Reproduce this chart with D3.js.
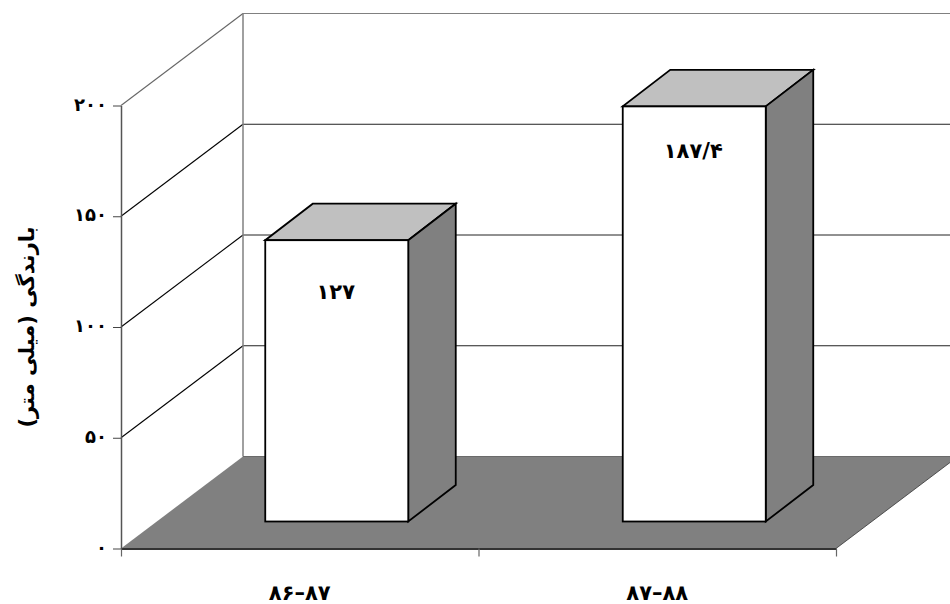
<!DOCTYPE html>
<html>
<head>
<meta charset="utf-8">
<script src="https://cdn.jsdelivr.net/npm/d3@7"></script>
<style>
  html, body { margin: 0; padding: 0; background: #fff; }
  svg { display: block; }
  text { font-family: "DejaVu Sans", sans-serif; font-weight: bold; fill: #000; }
</style>
</head>
<body>
<div id="chart"></div>
<script>
// Chart data
const categories = ["۸۶–۸۷", "۸۷–۸۸"];
const rainfall = [127, 187.4];
const rainfallLabels = ["۱۲۷", "۱۸۷/۴"];
const yTicks = [0, 50, 100, 150, 200];
const yTickLabels = ["۰", "۵۰", "۱۰۰", "۱۵۰", "۲۰۰"];
const yTitle = "بارندگی (میلی متر)";

const width = 950, height = 604;

// Front plane of the plot box, and the 3d offset to the back wall
const plotLeft = 121, plotRight = 836, plotBottom = 548.5, plotTop = 105.5;
const depth = { x: 122, y: -92 };
const barDepth = { x: 47.5, y: -36.5 };
const barInset = { x: 37, y: -27 }; // bars stand this far in from the front edge
const barRatio = 0.4;
const labelDrop = [59, 52]; // value label baseline below the top of each bar

const svg = d3.select("#chart").append("svg")
  .attr("width", width).attr("height", height);

const xScale = d3.scaleBand().domain(categories).range([plotLeft, plotRight]);
const yScale = d3.scaleLinear().domain([0, 200]).range([plotBottom, plotTop]);

// polygon helper
function poly(points) {
  return "M" + points.map((p) => p.join(",")).join("L") + "Z";
}

// Back wall and side wall lines
const wall = svg.append("g");

yTicks.slice(1).forEach((t) => {
  let y = yScale(t);
  wall.append("line")
    .attr("x1", plotLeft).attr("y1", y)
    .attr("x2", plotLeft + depth.x).attr("y2", y + depth.y)
    .attr("stroke", t === 200 ? "#666" : "#000")
    .attr("stroke-width", 1.1);
  wall.append("line")
    .attr("x1", plotLeft + depth.x).attr("y1", y + depth.y)
    .attr("x2", plotRight + depth.x).attr("y2", y + depth.y)
    .attr("stroke", t === 200 ? "#808080" : "#222");
});

wall.append("line")
  .attr("x1", plotLeft + depth.x).attr("y1", yScale(200) + depth.y)
  .attr("x2", plotLeft + depth.x).attr("y2", yScale(0) + depth.y)
  .attr("stroke", "#808080").attr("stroke-width", 1.5);

// Floor
svg.append("path")
  .attr("d", poly([
    [plotLeft, plotBottom],
    [plotRight, plotBottom],
    [plotRight + depth.x, plotBottom + depth.y],
    [plotLeft + depth.x, plotBottom + depth.y]
  ]))
  .attr("fill", "#808080");

svg.append("line")
  .attr("x1", plotLeft + depth.x).attr("y1", plotBottom + depth.y)
  .attr("x2", plotRight + depth.x).attr("y2", plotBottom + depth.y)
  .attr("stroke", "#6a6a6a").attr("stroke-width", 1);

svg.append("line")
  .attr("x1", plotRight).attr("y1", plotBottom)
  .attr("x2", plotRight + depth.x).attr("y2", plotBottom + depth.y)
  .attr("stroke", "#333").attr("stroke-width", 0.8);

// X axis
const xAxisG = svg.append("g")
  .attr("transform", "translate(0," + plotBottom + ")")
  .call(d3.axisBottom(d3.scaleLinear().domain([0, 2]).range([plotLeft, plotRight]))
    .tickValues([0, 1, 2]).tickSize(8).tickSizeOuter(0).tickFormat(""));
xAxisG.select(".domain").attr("stroke", "#333").attr("stroke-width", 2);
xAxisG.selectAll(".tick line").attr("stroke", "#666").attr("stroke-width", 1.2);

// Y axis
const yAxisG = svg.append("g")
  .attr("transform", "translate(" + plotLeft + ",0)")
  .call(d3.axisLeft(yScale)
    .tickValues(yTicks).tickSize(8).tickSizeOuter(0).tickPadding(6)
    .tickFormat((d, i) => yTickLabels[i]));
yAxisG.select(".domain").attr("stroke", "#555").attr("stroke-width", 1.5);
yAxisG.selectAll(".tick line").attr("stroke", "#444");
yAxisG.selectAll(".tick text")
  .attr("font-size", 18)
  .attr("dy", "0.26em");

// Bars
const bars = svg.append("g").selectAll("g")
  .data(categories)
  .enter()
  .append("g");

const barWidth = xScale.bandwidth() * barRatio;
const barX = (d) => xScale(d) + (xScale.bandwidth() - barWidth) / 2 + barInset.x;
const baseY = yScale(0) + barInset.y;
const barTop = (i) => baseY - (yScale(0) - yScale(rainfall[i]));

// top face
bars.append("path")
  .attr("d", (d, i) => poly([
    [barX(d), barTop(i)],
    [barX(d) + barWidth, barTop(i)],
    [barX(d) + barWidth + barDepth.x, barTop(i) + barDepth.y],
    [barX(d) + barDepth.x, barTop(i) + barDepth.y]
  ]))
  .attr("fill", "#c0c0c0").attr("stroke", "#000").attr("stroke-width", 1.8);

// side face
bars.append("path")
  .attr("d", (d, i) => poly([
    [barX(d) + barWidth, barTop(i)],
    [barX(d) + barWidth + barDepth.x, barTop(i) + barDepth.y],
    [barX(d) + barWidth + barDepth.x, baseY + barDepth.y],
    [barX(d) + barWidth, baseY]
  ]))
  .attr("fill", "#808080").attr("stroke", "#000").attr("stroke-width", 1.8);

// front face
bars.append("rect")
  .attr("x", (d) => barX(d))
  .attr("y", (d, i) => barTop(i))
  .attr("width", barWidth)
  .attr("height", (d, i) => baseY - barTop(i))
  .attr("fill", "#fff").attr("stroke", "#000").attr("stroke-width", 1.8);

// value labels
bars.append("text")
  .attr("x", (d) => barX(d) + barWidth / 2 - 1)
  .attr("y", (d, i) => barTop(i) + labelDrop[i])
  .attr("text-anchor", "middle")
  .attr("font-size", 21)
  .attr("letter-spacing", "-1px")
  .text((d, i) => rainfallLabels[i]);

// category labels
svg.append("g").selectAll("text")
  .data(categories)
  .enter()
  .append("text")
  .attr("x", (d) => xScale(d) + xScale.bandwidth() / 2)
  .attr("y", 600)
  .attr("text-anchor", "middle")
  .attr("font-size", 21)
  .attr("letter-spacing", "-1px")
  .text((d) => d);

// y axis title
svg.append("text")
  .attr("transform", "translate(34,327) rotate(-90)")
  .attr("text-anchor", "middle")
  .attr("font-size", 21)
  .text(yTitle);
</script>
</body>
</html>
